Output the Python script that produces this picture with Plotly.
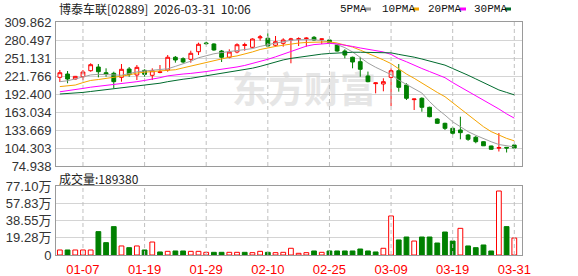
import plotly.graph_objects as go

# ---------------- data ----------------
dates = [
    "2026-01-02", "2026-01-05", "2026-01-06", "2026-01-07", "2026-01-08", "2026-01-09",
    "2026-01-12", "2026-01-13", "2026-01-14", "2026-01-15", "2026-01-16",
    "2026-01-19", "2026-01-20", "2026-01-21", "2026-01-22", "2026-01-23",
    "2026-01-26", "2026-01-27", "2026-01-28", "2026-01-29", "2026-01-30",
    "2026-02-02", "2026-02-03", "2026-02-04", "2026-02-05", "2026-02-06",
    "2026-02-09", "2026-02-10", "2026-02-11", "2026-02-12", "2026-02-13",
    "2026-02-16", "2026-02-20", "2026-02-23", "2026-02-24", "2026-02-25",
    "2026-02-26", "2026-02-27", "2026-03-02", "2026-03-03", "2026-03-04",
    "2026-03-05", "2026-03-06", "2026-03-09", "2026-03-10", "2026-03-11",
    "2026-03-12", "2026-03-13", "2026-03-16", "2026-03-17", "2026-03-18",
    "2026-03-19", "2026-03-20", "2026-03-23", "2026-03-24", "2026-03-25",
    "2026-03-26", "2026-03-27", "2026-03-30", "2026-03-31",
]

open_ = [219.6, 225.0, 216.8, 220.6, 230.4, 236.4, 227.1, 226.2, 219.6, 233.2,
         223.4, 231.0, 222.9, 227.5, 231.5, 252.3, 250.0, 249.0, 261.4, 275.6,
         274.0, 262.5, 252.3, 260.9, 271.5, 268.6, 284.0, 283.3, 271.9, 275.1,
         280.5, 281.5, 282.8, 284.9, 281.6, 280.5, 272.3, 262.5, 252.3, 245.1,
         221.8, 209.3, 208.7, 219.6, 230.4, 207.1, 183.2, 185.4, 170.7, 151.6,
         144.6, 136.4, 133.7, 125.5, 121.8, 114.6, 107.6, 104.0, 105.4, 109.2]
high = [231.5, 229.9, 221.8, 231.5, 242.5, 241.3, 234.3, 228.8, 241.3, 236.4,
        239.7, 232.7, 234.3, 239.7, 256.0, 254.4, 252.3, 263.0, 276.1, 277.7,
        275.1, 264.2, 265.3, 275.1, 276.1, 283.3, 288.7, 291.4, 287.0, 283.3,
        284.0, 284.9, 285.0, 287.0, 282.6, 281.5, 274.0, 265.3, 253.3, 253.0,
        229.0, 211.0, 218.0, 234.3, 241.3, 209.9, 184.6, 187.0, 171.7, 152.7,
        145.6, 139.1, 155.4, 127.1, 124.0, 115.2, 108.0, 128.7, 105.7, 111.0]
low = [212.0, 209.9, 216.0, 215.2, 228.8, 219.6, 220.6, 201.7, 212.5, 220.6,
       215.2, 220.6, 215.2, 226.2, 228.8, 243.5, 242.5, 243.5, 256.0, 272.3,
       263.0, 244.6, 250.6, 258.8, 263.0, 267.0, 279.4, 268.6, 269.6, 269.6,
       242.5, 270.7, 269.6, 279.4, 274.0, 275.1, 261.4, 250.6, 234.3, 220.6,
       211.5, 193.5, 196.8, 172.8, 196.2, 182.6, 166.3, 163.5, 154.4, 143.5,
       133.7, 125.5, 118.5, 116.0, 112.0, 107.6, 101.6, 98.6, 97.0, 104.0]
close = [227.1, 216.8, 221.2, 228.3, 240.2, 228.8, 225.0, 212.5, 232.7, 224.0,
         235.9, 224.5, 230.4, 228.5, 252.3, 247.9, 244.6, 258.8, 273.5, 274.6,
         264.2, 252.3, 260.9, 272.8, 272.8, 282.1, 285.5, 270.7, 277.7, 280.5,
         282.1, 282.5, 283.5, 280.5, 282.2, 276.7, 262.5, 256.0, 244.6, 232.7,
         212.5, 210.5, 212.5, 230.4, 203.3, 185.4, 184.2, 170.7, 155.4, 144.6,
         136.4, 128.3, 129.3, 118.5, 114.6, 107.9, 102.2, 105.0, 104.3, 104.3]

ma5 = [212.5, 214, 217, 220.5, 223.5, 224.5, 224.5, 223.5, 223, 226,
       228.5, 230, 231, 231.5, 233.5, 237.5, 241.5, 246, 251.5, 255,
       258, 260, 261.5, 262.5, 264, 266.5, 270, 273, 275.5, 277.5,
       280, 281, 281.5, 281, 279.5, 277, 273, 268, 261, 252,
       243, 236, 230, 224, 215, 208, 202, 194, 180, 168,
       158, 147, 139, 131, 125, 119.5, 114.5, 110, 107.5, 106]
ma10 = [204.5, 205.5, 207, 211, 214.5, 216, 217.5, 219, 221.5, 223.5,
        226.5, 228, 229.5, 230, 231, 232, 235, 238, 241, 244.5,
        247, 250, 252.5, 254.5, 257.5, 261, 265, 268, 270, 272,
        274, 275.5, 276.5, 277, 277.5, 277.5, 275.5, 272.5, 269, 264,
        259, 253, 248, 242, 233, 225, 218, 210, 202, 195,
        188, 178, 169, 158, 148, 139, 131, 125, 120, 116]
ma20 = [196, 197.5, 199, 201.5, 203.5, 205, 206, 207, 208.5, 210.5,
        212.5, 214.5, 216.5, 219, 222, 224, 225, 226, 227, 229,
        231, 232.5, 234, 236.5, 239, 242, 245.5, 249, 253, 257.5,
        262, 267, 270.5, 273, 274.5, 275, 274, 272.5, 270, 267.5,
        265, 263, 261, 257, 250, 245, 239, 234, 229, 224,
        219, 211, 204, 196, 190, 183, 175, 168, 160, 153]
ma30 = [192.4, 193, 193.5, 195, 196.5, 198, 200, 201.5, 203, 204.5,
        205.5, 206.5, 208, 210, 212.5, 215, 216.5, 218, 220, 222.5,
        224.5, 226.5, 228.5, 230, 232, 234.5, 237.5, 241, 245, 248,
        250.5, 252.5, 254.5, 256, 257.5, 258.5, 259.5, 260, 260.5, 260.5,
        260.5, 260.5, 260, 259.5, 257, 255, 252.5, 249.5, 246, 243,
        239.5, 234, 229, 223, 217, 211, 204, 199, 195, 191]

volume = [56000, 56000, 56000, 56000, 56000, 261000, 138000, 317000, 101000, 82000,
          101000, 56000, 145000, 34000, 41000, 45000, 45000, 41000, 41000, 30000,
          30000, 30000, 30000, 30000, 30000, 26000, 41000, 30000, 26000, 30000,
          75000, 19000, 26000, 45000, 30000, 45000, 45000, 45000, 45000, 67000,
          45000, 34000, 75000, 436000, 168000, 201000, 156000, 201000, 201000, 134000,
          257000, 156000, 298000, 101000, 82000, 112000, 45000, 715000, 317000, 189380]
# 1 = up (red hollow), 0 = down (green filled)
volume_up = [1, 0, 1, 1, 1, 0, 0, 0, 1, 0,
             1, 0, 1, 0, 1, 0, 0, 1, 1, 1,
             0, 0, 1, 1, 0, 1, 1, 0, 1, 1,
             1, 1, 1, 0, 1, 0, 0, 0, 0, 0,
             0, 0, 1, 1, 0, 0, 1, 0, 0, 0,
             0, 0, 1, 0, 0, 0, 0, 1, 0, 1]

price_ticks = [74.938, 104.303, 133.669, 163.034, 192.400, 221.766, 251.131, 280.497, 309.862]
price_tick_text = ["74.938", "104.303", "133.669", "163.034", "192.400",
                   "221.766", "251.131", "280.497", "309.862"]
vol_ticks = [0, 192750, 385500, 578250, 771000]
vol_tick_text = ["0", "19.28万", "38.55万", "57.83万", "77.10万"]
date_ticks = ["2026-01-07", "2026-01-19", "2026-01-29", "2026-02-10",
              "2026-02-25", "2026-03-09", "2026-03-19", "2026-03-31"]
date_tick_text = ["01-07", "01-19", "01-29", "02-10", "02-25", "03-09", "03-19", "03-31"]

title_text = "博泰车联[02889]  2026-03-31  10:06"
vol_title = "成交量:189380"
ma_names = ["5PMA", "10PMA", "20PMA", "30PMA"]

# ---------------- styles ----------------
RED = "#ff0000"
GREEN = "#008000"
MA_COLORS = ["#a0a0a0", "#f5a400", "#ff00ff", "#006b2e"]
BORDER = "#9a9a9a"
GRID = "#d4d4d4"
VGRID = "#c0c0c0"
W, H = 578, 276
L, R, T, B = 56, 56, 22, 21
PW, PH = W - L - R, H - T - B


def px_x(x):
    return (x - L) / PW


def px_y(y):
    return (H - B - y) / PH


# trading-day position of each date (the x axis skips non-trading days)
xpos = list(range(len(dates)))
tick_pos = [dates.index(d) for d in date_ticks]

price_bottom = px_y(166)
vol_top = px_y(186)


def vertical_guides(positions, y_lo, y_hi):
    xs, ys = [], []
    for p in positions:
        xs += [p, p, None]
        ys += [y_lo, y_hi, None]
    return xs, ys


fig = go.Figure()

# dashed vertical guides at the labelled dates (drawn first, under the data)
gx, gy = vertical_guides(tick_pos, price_ticks[0], price_ticks[-1])
fig.add_trace(go.Scatter(x=gx, y=gy, mode="lines", xaxis="x", yaxis="y",
                         line=dict(color=VGRID, width=1, dash="4px,3px"),
                         showlegend=False, hoverinfo="skip"))
gx2, gy2 = vertical_guides(tick_pos, vol_ticks[0], vol_ticks[-1])
fig.add_trace(go.Scatter(x=gx2, y=gy2, mode="lines", xaxis="x2", yaxis="y2",
                         line=dict(color=VGRID, width=1, dash="4px,3px"),
                         showlegend=False, hoverinfo="skip"))

fig.add_trace(go.Candlestick(
    x=xpos, open=open_, high=high, low=low, close=close,
    increasing=dict(line=dict(color=RED, width=1), fillcolor="#ffffff"),
    decreasing=dict(line=dict(color=GREEN, width=1), fillcolor=GREEN),
    whiskerwidth=0, xaxis="x", yaxis="y", showlegend=False, hoverinfo="skip",
))

for name, vals, col in zip(ma_names, [ma5, ma10, ma20, ma30], MA_COLORS):
    fig.add_trace(go.Scatter(x=xpos, y=vals, mode="lines", name=name,
                             line=dict(color=col, width=1),
                             xaxis="x", yaxis="y", showlegend=False, hoverinfo="skip"))

fig.add_trace(go.Bar(
    x=xpos, y=volume, width=0.62,
    marker=dict(color=["#ffffff" if u else GREEN for u in volume_up],
                line=dict(color=[RED if u else GREEN for u in volume_up], width=1)),
    xaxis="x2", yaxis="y2", showlegend=False, hoverinfo="skip",
))

axis_common = dict(type="linear", range=[-0.5, 60.0], tickmode="array",
                   tickvals=tick_pos, ticktext=date_tick_text,
                   showgrid=False, showline=True, mirror=True,
                   linecolor=BORDER, linewidth=1, ticks="", zeroline=False,
                   fixedrange=True)

fig.update_layout(
    width=W, height=H,
    margin=dict(l=L, r=R, t=T, b=B, pad=0, autoexpand=False),
    paper_bgcolor="#ffffff", plot_bgcolor="#ffffff",
    showlegend=False,
    xaxis=dict(**axis_common, anchor="y", showticklabels=False,
               rangeslider=dict(visible=False)),
    xaxis2=dict(**axis_common, anchor="y2", matches="x", showticklabels=True,
                tickfont=dict(family="Liberation Sans, Arial", size=13, color=RED),
                ticklabelstandoff=2),
    yaxis=dict(domain=[price_bottom, 1], range=[price_ticks[0], price_ticks[-1]],
               tickvals=price_ticks, ticktext=price_tick_text,
               showgrid=True, gridcolor=GRID, gridwidth=1,
               showline=True, mirror=True, linecolor=BORDER, ticks="",
               zeroline=False, fixedrange=True,
               tickfont=dict(family="Liberation Sans, Arial", size=13, color="#333333"),
               ticklabelstandoff=1),
    yaxis2=dict(domain=[0, vol_top], range=[0, vol_ticks[-1]],
                tickvals=vol_ticks, ticktext=vol_tick_text,
                showgrid=True, gridcolor=GRID, gridwidth=1,
                showline=True, mirror=True, linecolor=BORDER, ticks="",
                zeroline=False, fixedrange=True,
                tickfont=dict(family="Liberation Sans, Noto Sans CJK SC", size=13, color="#333333"),
                ticklabelstandoff=1),
)

annotations = [
    dict(text=title_text, x=px_x(57), y=px_y(9), xref="paper", yref="paper",
         xanchor="left", yanchor="middle", showarrow=False,
         font=dict(family="Noto Sans CJK SC", size=12, color="#222222")),
    dict(text=vol_title, x=px_x(57), y=px_y(178), xref="paper", yref="paper",
         xanchor="left", yanchor="middle", showarrow=False,
         font=dict(family="Noto Sans CJK SC", size=12, color="#222222")),
]
legend_x = [338, 380, 426, 472]
dash_x = [(365, 371), (413, 419), (460, 466), (505, 511)]
shapes = []

for name, lx, (d0, d1), col in zip(ma_names, legend_x, dash_x, MA_COLORS):
    annotations.append(dict(text=name, x=px_x(lx), y=px_y(9), xref="paper", yref="paper",
                            xanchor="left", yanchor="middle", showarrow=False,
                            font=dict(family="Liberation Mono", size=11, color="#111111")))
    shapes.append(dict(type="rect", xref="paper", yref="paper",
                       x0=px_x(d0), x1=px_x(d1), y0=px_y(10.5), y1=px_y(7.5),
                       fillcolor=col, line=dict(width=0)))

# watermark
shapes.append(dict(type="rect", xref="paper", yref="paper", layer="below",
                   x0=px_x(226), x1=px_x(382), y0=px_y(113), y1=px_y(73),
                   fillcolor="rgba(0,0,0,0)", line=dict(width=0),
                   label=dict(text="东方财富", textposition="middle center",
                              font=dict(family="Noto Sans CJK SC", size=36,
                                        color="#e6e6e6", weight="bold"))))

fig.update_layout(annotations=annotations, shapes=shapes)

fig.write_html("out.html")
